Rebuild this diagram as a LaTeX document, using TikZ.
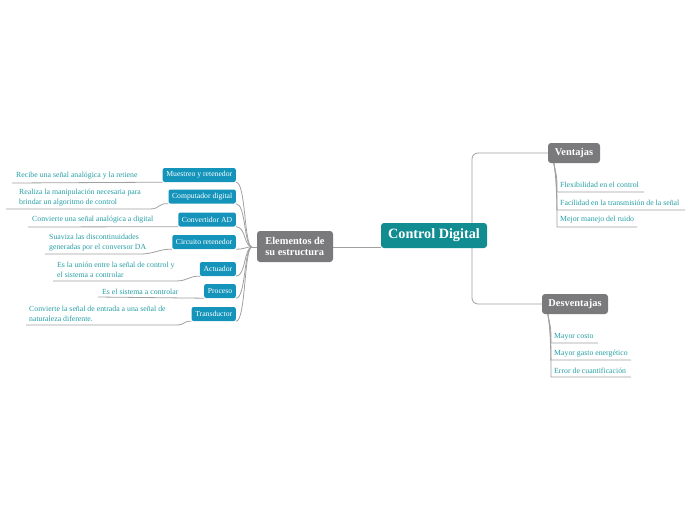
\documentclass[tikz,border=0pt]{standalone}
\usepackage{fontspec}
\setmainfont{Liberation Serif}
\usetikzlibrary{calc,backgrounds}
\definecolor{mapTeal}{RGB}{17,141,146}
\definecolor{mapCyan}{RGB}{20,148,186}
\definecolor{mapGray}{RGB}{122,122,125}
\definecolor{mapText}{RGB}{38,158,164}
\definecolor{mapLine}{RGB}{160,160,160}

\begin{document}
\begin{tikzpicture}[x=1pt,y=-1pt,
  rootbox/.style={rounded corners=3pt,fill=mapTeal,text=white,font=\fontsize{14.2}{16}\selectfont\bfseries,minimum width=106pt,minimum height=25pt,inner sep=2pt},
  mainbox/.style={rounded corners=3pt,fill=mapGray,text=white,font=\fontsize{10.4}{11.5}\selectfont\bfseries,align=left,inner sep=2pt,minimum height=20pt},
  partbox/.style={rounded corners=2pt,fill=mapCyan,text=white,font=\fontsize{7.7}{8.5}\selectfont,inner xsep=3.6pt,inner ysep=2pt,minimum height=14pt,anchor=east},
  desc/.style={text=mapText,font=\fontsize{7.8}{10}\selectfont,align=left,inner sep=0pt,anchor=west},
  link/.style={draw=mapLine,line width=0.8pt}]
\useasboundingbox (0,0) rectangle (696,520);

% central topics
\node[rootbox] (cd) at (434,235.5) {Control Digital};
\node[mainbox,minimum width=76pt,minimum height=31pt] (elem) at (295,246.5) {Elementos de\\su estructura};
\node[mainbox,minimum width=52pt] (vent) at (574,153) {Ventajas};
\node[mainbox,minimum width=66pt] (desv) at (575,304) {Desventajas};

% parts of the structure
\node[partbox] (mue) at (236,175) {Muestreo y retenedor};
\node[partbox] (comp) at (236,196.5) {Computador digital};
\node[partbox] (conv) at (236,219.5) {Convertidor AD};
\node[partbox] (circ) at (236,242) {Circuito retenedor};
\node[partbox] (act) at (236,269) {Actuador};
\node[partbox] (proc) at (236,291) {Proceso};
\node[partbox] (trans) at (236,314) {Transductor};

% descriptions
\node[desc] (mueD) at (16,176) {Recibe una señal analógica y la retiene};
\node[desc] (compD) at (19,198) {Realiza la manipulación necesaria para\\brindar un algoritmo de control};
\node[desc] (convD) at (32,220) {Convierte una señal analógica a digital};
\node[desc] (circD) at (49,243) {Suaviza las discontinuidades\\generadas por el conversor DA};
\node[desc] (actD) at (57,269.5) {Es la unión entre la señal de control y\\el sistema a controlar};
\node[desc] (procD) at (102,292) {Es el sistema a controlar};
\node[desc] (transD) at (29,314) {Convierte la señal de entrada a una señal de\\naturaleza diferente.};

% advantages and drawbacks
\node[desc] (v1) at (560,185) {Flexibilidad en el control};
\node[desc] (v2) at (560,203) {Facilidad en la transmisión de la señal};
\node[desc] (v3) at (560,220) {Mejor manejo del ruido};
\node[desc] (d1) at (554,337) {Mayor costo};
\node[desc] (d2) at (554,354) {Mayor gasto energético};
\node[desc] (d3) at (554,371) {Error de cuantificación};

\coordinate (hub) at (252,247);

\begin{scope}[on background layer]
% root links
\draw[link] (elem.east |- 0,247) -- (cd.west |- 0,247);
\draw[link,rounded corners=6pt] (472,235) |- (vent.west);
\draw[link,rounded corners=6pt] (472,235) |- (desv.west);
% parts to hub
\foreach \p in {mue,comp,conv,circ,act,proc,trans}
  \draw[link] (\p.south east) .. controls ($(\p.south east)+(10,0)$) and ($(hub)+(-8,0)$) .. (hub);
\draw[link] (hub) -- (elem.west |- hub);
% description underlines
\draw[link] (12,183) -- (mue.south west);
\draw[link] (6,209) -- (150,209) .. controls (160,209) and (158,203) .. (comp.south west);
\draw[link] (28,227) -- (conv.south west);
\draw[link] (45,254) -- (140,254) .. controls (155,254) and (158,249) .. (circ.south west);
\draw[link] (53,281) -- (176,281) .. controls (188,281) and (188,276) .. (act.south west);
\draw[link] (98,297) -- (proc.south west);
\draw[link] (26,325) -- (176,325) .. controls (186,325) and (182,321) .. (trans.south west);
% advantages
\coordinate (vroot) at ($(vent.south west)+(6,0)$);
\foreach \c/\e in {v1/644,v2/685,v3/637}
  \draw[link] (vroot) .. controls ($(vroot)+(3,15)$) and ($(\c.west)+(-3,-10)$) .. ($(\c.west)+(-3,7)$) -- ($(\c.west)+(\e-560,7)$);
% drawbacks
\coordinate (droot) at ($(desv.south west)+(6,0)$);
\foreach \c/\e in {d1/598,d2/631,d3/631}
  \draw[link] (droot) .. controls ($(droot)+(3,15)$) and ($(\c.west)+(-3,-10)$) .. ($(\c.west)+(-3,6)$) -- ($(\c.west)+(\e-554,6)$);
\end{scope}
\end{tikzpicture}
\end{document}
